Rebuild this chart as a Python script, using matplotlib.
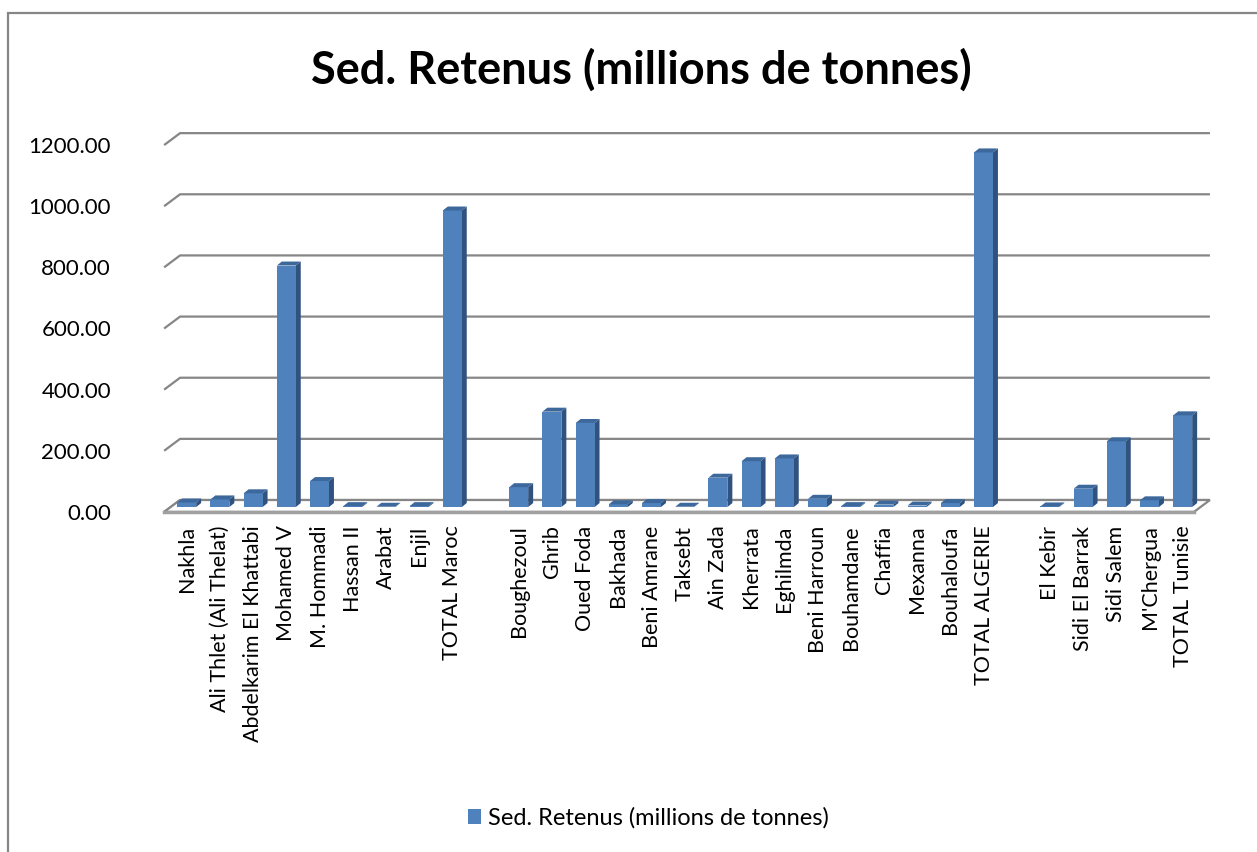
import numpy as np
import matplotlib
matplotlib.use('Agg')
from matplotlib import pyplot as plt
from matplotlib.patches import Polygon, Rectangle

plt.rcParams['font.family'] = ['Lato', 'DejaVu Sans']

#%% data

categories = ['Nakhla', 'Ali Thlet (Ali Thelat)', 'Abdelkarim El Khattabi', 'Mohamed V',
              'M. Hommadi', 'Hassan II', 'Arabat', 'Enjil', 'TOTAL Maroc', '',
              'Boughezoul', 'Ghrib', 'Oued Foda', 'Bakhada', 'Beni Amrane', 'Taksebt',
              'Ain Zada', 'Kherrata', 'Eghilmda', 'Beni Harroun', 'Bouhamdane', 'Chaffia',
              'Mexanna', 'Bouhaloufa', 'TOTAL ALGERIE', '',
              'El Kebir', 'Sidi El Barrak', 'Sidi Salem', "M'Chergua", 'TOTAL Tunisie']

sed_retenus = [15, 25, 45, 790, 85, 3, 1, 3, 970, np.nan,
               65, 312, 275, 9, 13, 1, 96, 150, 159, 27, 3, 8, 5, 13, 1160, np.nan,
               2, 60, 215, 22, 300]

y_ticks = [0, 200, 400, 600, 800, 1000, 1200]
series_name = 'Sed. Retenus (millions de tonnes)'

#%% style / 3d-ish geometry (slot units in x, value units in y)

front_col = '#4F81BD'
side_col = '#30527F'
top_col = '#3C689B'
grid_col = '#868686'

wall_x0, wall_x1 = -0.2, 30.82     # back wall left / right
floor_dx, floor_dy = 0.48, 39      # depth offset of the floor
bar_base = -23                     # front bottom of bars
bar_w = 0.57
side_dx, side_dy = 0.15, 13

#%%

fig = plt.figure(figsize=(12.57, 8.52), dpi=100)
ax = fig.add_axes([150/1257, 1 - 520/852, 1070/1257, 400/852])
ax.set_xlim((150 - 186.7)/33.2, (1220 - 186.7)/33.2)
ax.set_ylim(-65.4, 1243)

# gridlines + left stubs
for v in y_ticks:
    ax.plot([wall_x0 - floor_dx, wall_x0, wall_x1], [v - floor_dy, v, v],
            color=grid_col, lw=1.6, zorder=1, solid_capstyle='butt')

# floor
floor = Polygon([(wall_x0, 0), (wall_x1, 0), (wall_x1 - floor_dx, -floor_dy),
                 (wall_x0 - floor_dx, -floor_dy)], closed=True,
                facecolor='white', edgecolor=grid_col, lw=1.6, zorder=1)
ax.add_patch(floor)
ax.plot([wall_x0 - floor_dx, wall_x1 - floor_dx], [-floor_dy, -floor_dy],
        color='#A0A0A0', lw=2.5, zorder=1)

x = np.arange(len(categories))
vals = np.array(sed_retenus, dtype=float)
ok = ~np.isnan(vals)
ax.bar(x[ok], vals[ok], bottom=bar_base, width=bar_w, color=front_col,
       zorder=3, label=series_name)

for xi, v in zip(x[ok], vals[ok]):
    r = xi + bar_w/2
    l = xi - bar_w/2
    top = bar_base + v
    ax.add_patch(Polygon([(r, bar_base), (r + side_dx, bar_base + side_dy),
                          (r + side_dx, top + side_dy), (r, top)],
                         closed=True, facecolor=side_col, edgecolor='none', zorder=2))
    ax.add_patch(Polygon([(l, top), (l + side_dx, top + side_dy),
                          (r + side_dx, top + side_dy), (r, top)],
                         closed=True, facecolor=top_col, edgecolor='none', zorder=3))

ax.set_xticks(x)
ax.set_xticklabels(categories, rotation=90, fontsize=15.5)
ax.set_yticks([v - floor_dy for v in y_ticks])
ax.set_yticklabels(['%.2f' % v for v in y_ticks], fontsize=16)
ax.tick_params(axis='both', length=0)
ax.tick_params(axis='y', pad=28)
ax.tick_params(axis='x', pad=4)
for s in ax.spines.values():
    s.set_visible(False)

fig.text(0.51, 1 - 70/852, series_name, ha='center', va='center',
         fontsize=32.5, fontweight='bold')

leg = fig.legend(loc='center', bbox_to_anchor=(0.516, 1 - 818/852), frameon=False,
                 fontsize=17, handlelength=0.55, handleheight=0.55, handletextpad=0.3)

# chart border (right / bottom edges fall outside the picture)
fig.patches.append(Rectangle((8/1257, -10/852), 1270/1257, (852 - 13 + 10)/852,
                             transform=fig.transFigure, fill=False,
                             edgecolor='#868686', lw=1.6))

fig.savefig('out.png', dpi=100)
